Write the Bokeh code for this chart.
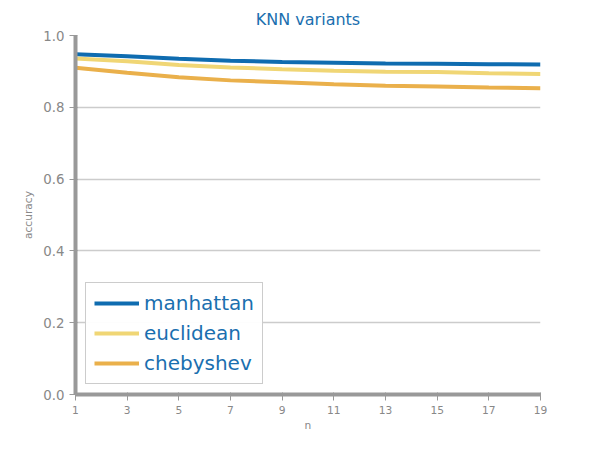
from bokeh.plotting import figure
from bokeh.models import FixedTicker, CustomJSTickFormatter
from bokeh.embed import file_html
from bokeh.resources import INLINE

n = [1, 3, 5, 7, 9, 11, 13, 15, 17, 19]
manhattan = [0.948, 0.942, 0.935, 0.930, 0.926, 0.924, 0.922, 0.921, 0.920, 0.919]
euclidean = [0.936, 0.928, 0.918, 0.911, 0.906, 0.902, 0.899, 0.898, 0.895, 0.893]
chebyshev = [0.910, 0.896, 0.884, 0.875, 0.870, 0.864, 0.860, 0.858, 0.855, 0.853]

p = figure(width=584, height=434, title="KNN variants", x_range=(1, 19), y_range=(0, 1.0),
           x_axis_label="n", y_axis_label="accuracy",
           output_backend="svg", toolbar_location=None)
p.min_border_left = 75
p.min_border_right = 44
p.min_border_bottom = 20
p.outline_line_color = None
p.title.align = "center"
p.title.text_color = "#1a6faf"
p.title.text_font = "DejaVu Sans"
p.title.text_font_style = "normal"
p.title.text_font_size = "12pt"
p.title.standoff = 14
p.title.offset = 0

p.line(n, manhattan, line_width=4, color="#0f6cb0", legend_label="manhattan")
p.line(n, euclidean, line_width=4, color="#f0d675", legend_label="euclidean")
p.line(n, chebyshev, line_width=4, color="#eab04b", legend_label="chebyshev")

p.xaxis.ticker = FixedTicker(ticks=n)
p.yaxis.ticker = FixedTicker(ticks=[0, 0.2, 0.4, 0.6, 0.8, 1.0])
p.yaxis.formatter = CustomJSTickFormatter(code="return tick.toFixed(1);")
for ax in (p.xaxis, p.yaxis):
    ax.axis_line_color = "#999999"
    ax.axis_line_width = 4
    ax.major_tick_line_color = "#999999"
    ax.minor_tick_line_color = None
    ax.major_label_text_color = "#888888"
    ax.major_label_text_font = "DejaVu Sans"
    ax.axis_label_text_color = "#888888"
    ax.axis_label_text_font = "DejaVu Sans"
    ax.axis_label_text_font_style = "normal"
    ax.axis_label_text_font_size = "8pt"
p.xaxis.major_label_text_font_size = "8pt"
p.yaxis.major_label_text_font_size = "10pt"
p.xaxis.axis_label_standoff = 2
p.xgrid.grid_line_color = None
p.ygrid.grid_line_color = "#cccccc"
p.ygrid.grid_line_width = 1.5

p.legend.location = "bottom_left"
p.legend.label_text_font = "DejaVu Sans"
p.legend.label_text_font_size = "15pt"
p.legend.label_text_color = "#1a6faf"
p.legend.border_line_color = "#cccccc"
p.legend.border_line_width = 1.5
p.legend.border_line_alpha = 1
p.legend.glyph_width = 45
p.legend.margin = 10
p.legend.padding = 8
p.legend.spacing = 6

open("out.html", "w").write(file_html(p, INLINE))
